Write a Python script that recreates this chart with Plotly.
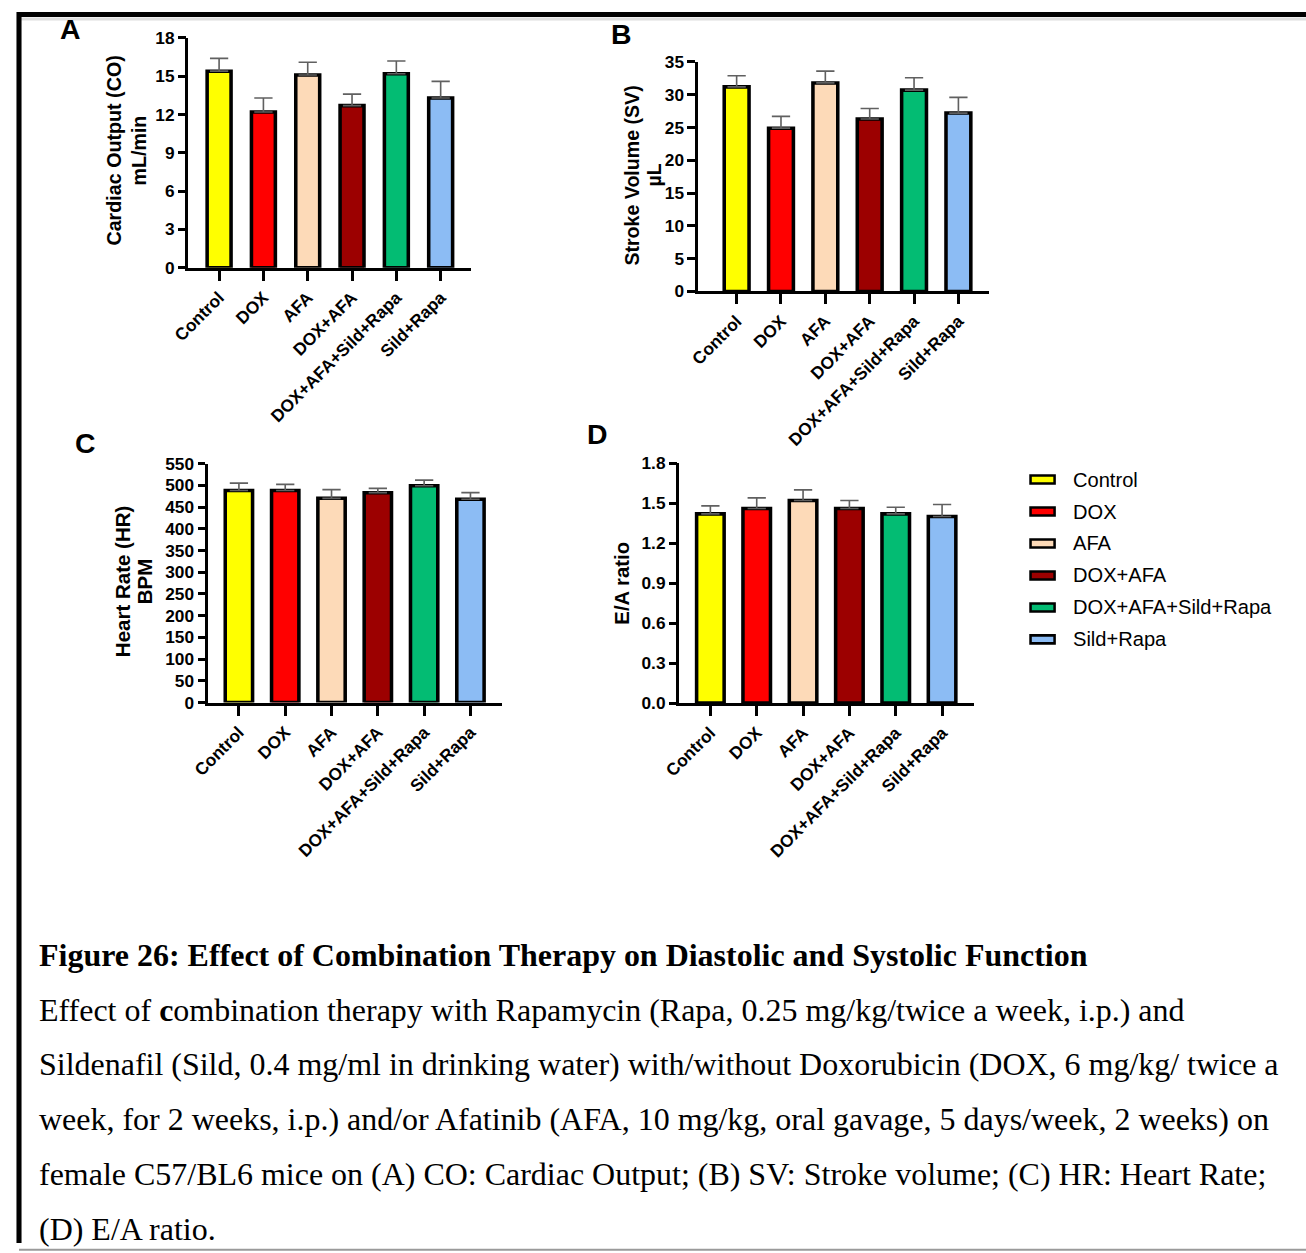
import plotly.graph_objects as go

W, H = 1306, 1253
# measured mapping between page pixels and the photographed picture
S, BX, BY = 0.985, 17.5, 9.0

categories = ["Control", "DOX", "AFA", "DOX+AFA", "DOX+AFA+Sild+Rapa", "Sild+Rapa"]
colors = ["#FFFF00", "#FF0000", "#FDDAB8", "#9C0000", "#03BC73", "#8CBCF4"]

co_mean = [15.4, 12.2, 15.1, 12.7, 15.2, 13.3]
co_err = [1.0, 1.1, 1.0, 0.9, 1.0, 1.3]
sv_mean = [31.2, 24.9, 31.8, 26.3, 30.7, 27.2]
sv_err = [1.7, 1.8, 1.8, 1.6, 1.9, 2.4]
hr_mean = [488, 488, 470, 483, 499, 468]
hr_err = [17, 14, 20, 10, 13, 15]
ea_mean = [1.42, 1.46, 1.52, 1.46, 1.42, 1.40]
ea_err = [0.06, 0.08, 0.08, 0.06, 0.05, 0.09]

caption_title = "Figure 26: Effect of Combination Therapy on Diastolic and Systolic Function"
caption_lines = [
    "Effect of <b>c</b>ombination therapy with Rapamycin (Rapa, 0.25 mg/kg/twice a week, i.p.) and",
    "Sildenafil (Sild, 0.4 mg/ml in drinking water) with/without Doxorubicin (DOX, 6 mg/kg/ twice a",
    "week, for 2 weeks, i.p.) and/or Afatinib (AFA, 10 mg/kg, oral gavage, 5 days/week, 2 weeks) on",
    "female C57/BL6 mice on (A) CO: Cardiac Output; (B) SV: Stroke volume; (C) HR: Heart Rate;",
    "(D) E/A ratio.",
]


def px_x(x):
    return max(0.0, (x - BX) / S) / W


def px_y(y):
    return 1 - max(0.0, (y - BY) / S) / H


def fs(v):
    return v / S


SANS = "Liberation Sans, Arial, sans-serif"
SERIF = "Liberation Serif, Times New Roman, serif"

panels = [
    dict(mean=co_mean, err=co_err, xpx=(188.5, 471), ypx=(37, 267),
         xr=[-0.694, 5.694], yr=[0, 18], dtick=3, fmt="", bw=0.54,
         letter="A", lpos=(71, 28), tsize=19.4,
         titles=[("Cardiac Output (CO)", 114, 150), ("mL/min", 139, 150)]),
    dict(mean=sv_mean, err=sv_err, xpx=(697, 988), ypx=(61, 290.7),
         xr=[-0.874, 5.70], yr=[0, 35], dtick=5, fmt="", bw=0.56,
         letter="B", lpos=(621, 33), tsize=19.3,
         titles=[("Stroke Volume (SV)", 631, 175), ("µL", 653, 174)]),
    dict(mean=hr_mean, err=hr_err, xpx=(208, 501.7), ypx=(463, 702.3),
         xr=[-0.67, 5.685], yr=[0, 550], dtick=50, fmt="", bw=0.59,
         letter="C", lpos=(86, 442), tsize=20.2,
         titles=[("Heart Rate (HR)", 123, 581), ("BPM", 145, 581)]),
    dict(mean=ea_mean, err=ea_err, xpx=(678.5, 973), ypx=(462.7, 702.7),
         xr=[-0.67, 5.698], yr=[0, 1.8], dtick=0.3, fmt=".1f", bw=0.594,
         letter="D", lpos=(597, 433), tsize=20.0,
         titles=[("E/A ratio", 621.5, 583)]),
]

fig = go.Figure()
annotations = []
shapes = []

for i, p in enumerate(panels):
    sfx = "" if i == 0 else str(i + 1)
    fig.add_trace(go.Bar(
        x=categories, y=p["mean"],
        xaxis="x" + sfx, yaxis="y" + sfx,
        width=p["bw"],
        marker=dict(color=colors, line=dict(color="black", width=fs(3.5))),
        error_y=dict(type="data", array=p["err"], arrayminus=[0] * len(p["err"]),
                     symmetric=False, color="#606060", thickness=fs(1.6), width=fs(9)),
        showlegend=False,
    ))
    xa = dict(
        domain=[px_x(p["xpx"][0]), px_x(p["xpx"][1])],
        anchor="y" + sfx, range=p["xr"], type="category",
        showline=True, linecolor="black", linewidth=fs(2.5),
        ticks="outside", ticklen=fs(10), tickwidth=fs(2.5), tickcolor="black",
        tickangle=-45, showgrid=False, zeroline=False,
        tickfont=dict(family=SANS, size=fs(17), color="black", weight="bold"),
    )
    ya = dict(
        domain=[px_y(p["ypx"][1]), px_y(p["ypx"][0])],
        anchor="x" + sfx, range=p["yr"], dtick=p["dtick"], tick0=0,
        tickformat=p["fmt"],
        showline=True, linecolor="black", linewidth=fs(2.5),
        ticks="outside", ticklen=fs(7.5), tickwidth=fs(2.5), tickcolor="black",
        showgrid=False, zeroline=False,
        tickfont=dict(family=SANS, size=fs(17), color="black", weight="bold"),
    )
    fig.update_layout(**{"xaxis" + sfx: xa, "yaxis" + sfx: ya})

    annotations.append(dict(
        text=p["letter"], x=px_x(p["lpos"][0]), y=px_y(p["lpos"][1]),
        xref="paper", yref="paper", xanchor="center", yanchor="middle",
        showarrow=False, font=dict(family=SANS, size=fs(28), color="black", weight="bold")))
    for t, tx, ty in p["titles"]:
        annotations.append(dict(
            text=t, x=px_x(tx), y=px_y(ty), xref="paper", yref="paper",
            xanchor="center", yanchor="middle", textangle=-90, showarrow=False,
            font=dict(family=SANS, size=fs(p["tsize"]), color="black", weight="bold")))

# legend (manual)
leg_x0, leg_x1, leg_text_x = 1029, 1053, 1069
leg_y0, leg_dy = 479, 32
for k, (cat, col) in enumerate(zip(categories, colors)):
    yc = leg_y0 + k * leg_dy
    shapes.append(dict(type="rect", xref="paper", yref="paper",
                       x0=px_x(leg_x0), x1=px_x(leg_x1),
                       y0=px_y(yc + 4), y1=px_y(yc - 4),
                       fillcolor=col, line=dict(color="black", width=fs(2.5))))
    annotations.append(dict(
        text=cat, x=px_x(leg_text_x), y=px_y(yc), xref="paper", yref="paper",
        xanchor="left", yanchor="middle", showarrow=False,
        font=dict(family=SANS, size=fs(19.8), color="black")))

# caption
annotations.append(dict(
    text="<b>" + caption_title + "</b>", x=px_x(37), y=px_y(955),
    xref="paper", yref="paper", xanchor="left", yanchor="middle", showarrow=False,
    font=dict(family=SERIF, size=fs(31.5), color="black")))
for k, line in enumerate(caption_lines):
    annotations.append(dict(
        text=line, x=px_x(37), y=px_y(1010 + 55 * k),
        xref="paper", yref="paper", xanchor="left", yanchor="middle", showarrow=False,
        font=dict(family=SERIF, size=fs(31.5), color="black")))

# page frame
shapes += [
    dict(type="line", xref="paper", yref="paper", x0=0, x1=1, y0=px_y(13.5), y1=px_y(13.5),
         line=dict(color="black", width=fs(5))),
    dict(type="line", xref="paper", yref="paper", x0=px_x(20), x1=1, y0=px_y(18), y1=px_y(18),
         line=dict(color="#dddddd", width=fs(3))),
    dict(type="line", xref="paper", yref="paper", x0=px_x(19.5), x1=px_x(19.5), y0=px_y(11), y1=0,
         line=dict(color="black", width=fs(5))),
    dict(type="line", xref="paper", yref="paper", x0=px_x(19.5), x1=1, y0=px_y(1250), y1=px_y(1250),
         line=dict(color="#9a9a9a", width=fs(2))),
]

fig.update_layout(
    width=W, height=H,
    margin=dict(l=0, r=0, t=0, b=0),
    paper_bgcolor="white", plot_bgcolor="white",
    showlegend=False,
    annotations=annotations, shapes=shapes,
    font=dict(family=SANS, color="black"),
)

fig.write_html("out.html", config={"displayModeBar": False},
               post_script="document.body.style.margin='0';document.body.style.overflow='hidden';")
